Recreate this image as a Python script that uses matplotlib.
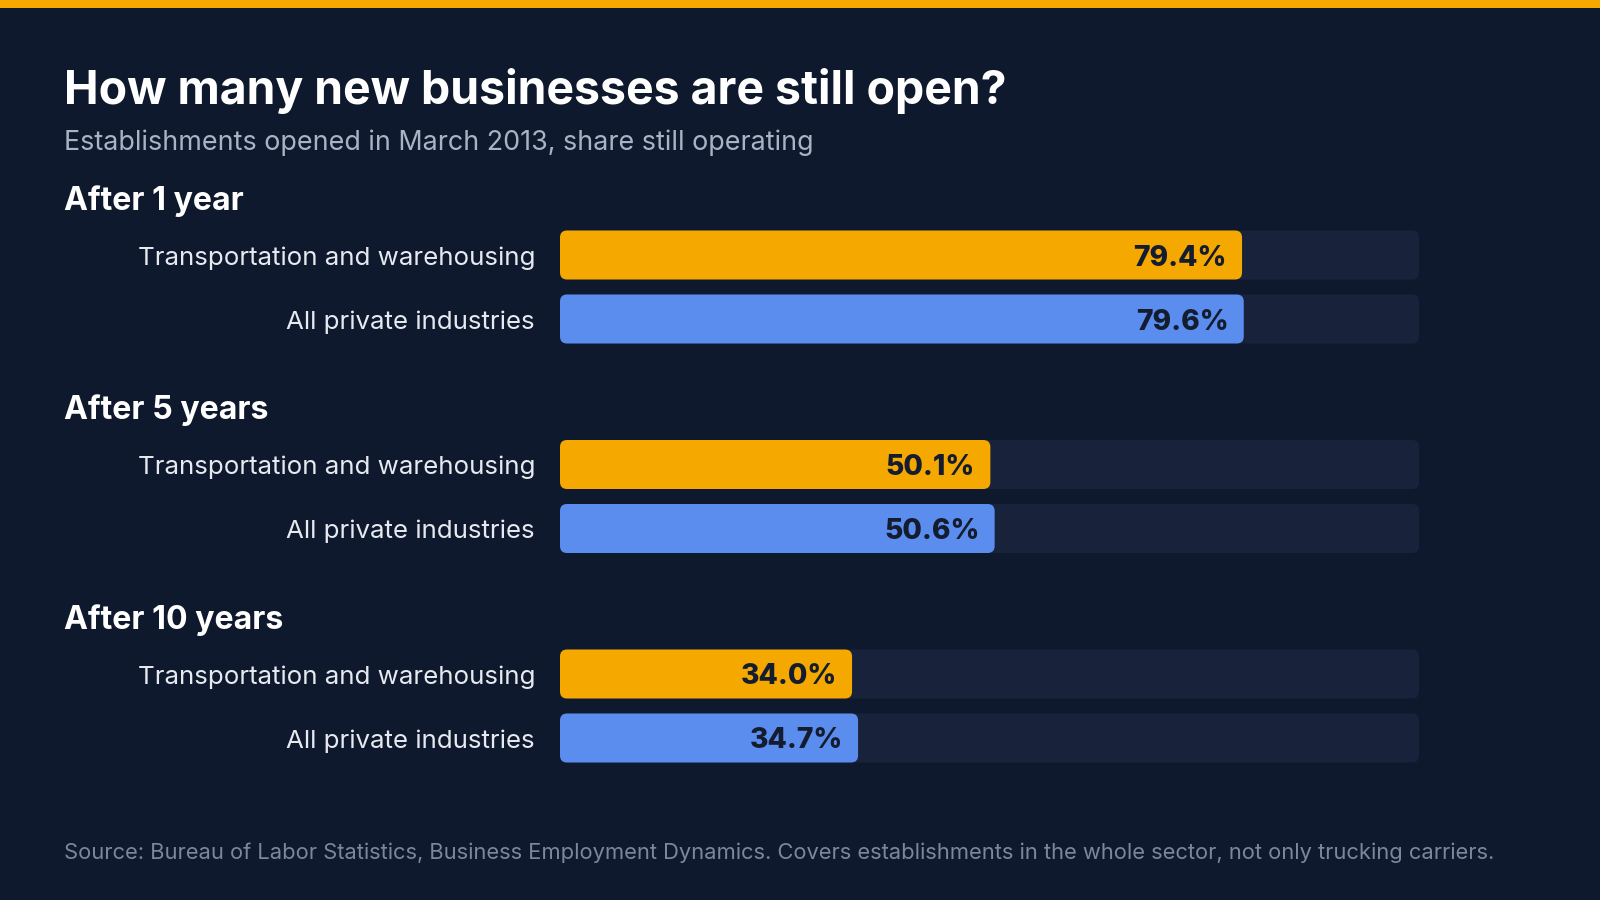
import matplotlib
matplotlib.use("Agg")
import matplotlib.pyplot as plt
from matplotlib.patches import FancyBboxPatch, Rectangle

# ---- data ----
groups = ["After 1 year", "After 5 years", "After 10 years"]
series = ["Transportation and warehousing", "All private industries"]
transport_vals = [79.4, 50.1, 34.0]
private_vals = [79.6, 50.6, 34.7]
title = "How many new businesses are still open?"
subtitle = "Establishments opened in March 2013, share still operating"
source = ("Source: Bureau of Labor Statistics, Business Employment Dynamics. "
          "Covers establishments in the whole sector, not only trucking carriers.")

# ---- style ----
BG = "#0f192d"
TRACK = "#18223b"
ORANGE = "#f5a800"
BLUE = "#5b8def"
WHITE = "#ffffff"
LABEL = "#e6e9ef"
SUB = "#a9b3c6"
SRC = "#7b879d"
VAL = "#141c2f"
plt.rcParams["font.family"] = ["Inter", "DejaVu Sans"]

W, H = 1600, 900
fig = plt.figure(figsize=(16, 9), dpi=100, facecolor=BG)

def ftext(x, y, s, **kw):
    fig.text(x / W, 1 - (y + 3) / H, s, **kw)

# top accent strip
fig.patches.append(Rectangle((0, 1 - 8 / H), 1, 8 / H, transform=fig.transFigure,
                             facecolor=ORANGE, edgecolor="none"))

ftext(64, 88, title, fontsize=33.4, fontweight="bold", color=WHITE, va="center")
ftext(64, 140, subtitle, fontsize=19.35, color=SUB, va="center")
ftext(64, 850, source, fontsize=15.77, color=SRC, va="center")

# layout (pixels)
x0, x1 = 560, 1419
ytop, ybot = 200, 780
group_step = 209.5
row_step = 64
first_row = 255
bar_h = 49
radius_px = 7

ax = fig.add_axes([x0 / W, 1 - ybot / H, (x1 - x0) / W, (ybot - ytop) / H])
ax.set_xlim(0, 100)
ax.set_ylim(ybot, ytop)  # y in pixel units, top-down
ax.axis("off")
ax.set_facecolor("none")

px_per_x = (x1 - x0) / 100.0
r_x = radius_px / px_per_x
aspect = px_per_x  # y units (px) per x unit

colors = [ORANGE, BLUE]
values = [transport_vals, private_vals]

def rbar(y, w, color, z):
    p = FancyBboxPatch((0, y - bar_h / 2), w, bar_h,
                       boxstyle=f"round,pad=0,rounding_size={r_x}",
                       mutation_aspect=aspect, facecolor=color,
                       edgecolor="none", zorder=z)
    ax.add_patch(p)

for g, gname in enumerate(groups):
    gy = first_row + g * group_step
    ftext(64, gy - 57, gname, fontsize=23.1, fontweight="bold", color=WHITE, va="center")
    for i, sname in enumerate(series):
        y = gy + i * row_step
        v = values[i][g]
        rbar(y, 100, TRACK, 1)
        rbar(y, v, colors[i], 2)
        ax.annotate(f"{v:.1f}%", xy=(v, y + 3), xytext=(-11, 0), textcoords="offset points",
                    ha="right", va="center", fontsize=20.3, fontweight=800,
                    color=VAL, zorder=3)
        ftext(535, y, sname, fontsize=18.65, color=LABEL, ha="right", va="center")

fig.savefig("out.png", dpi=100, facecolor=BG)
